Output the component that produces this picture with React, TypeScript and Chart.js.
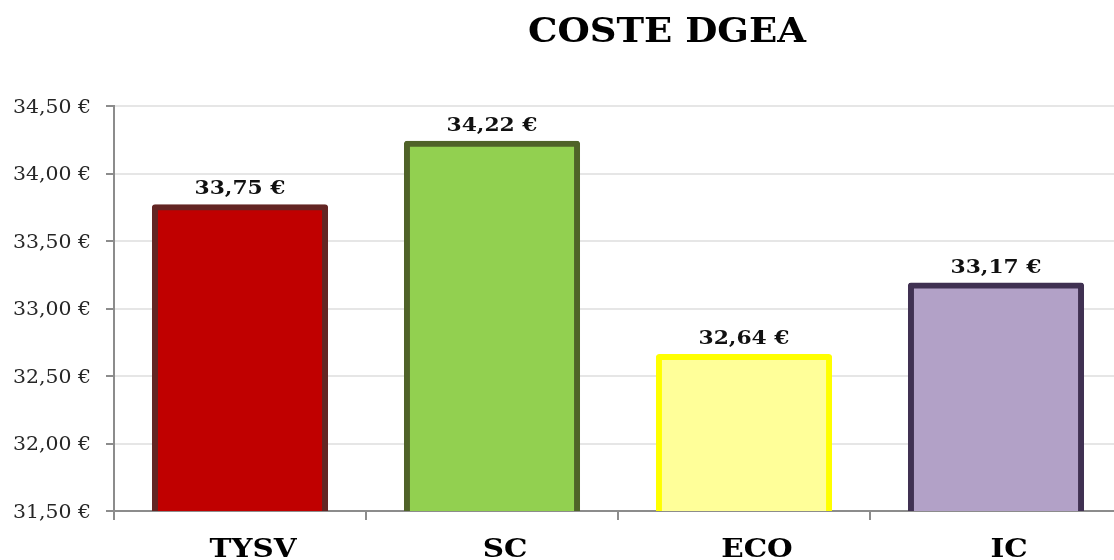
import React, { useEffect, useRef } from "react";
import { Chart, registerables } from "chart.js";

Chart.register(...registerables);

const chartTitle = "COSTE DGEA";
const categories = ["TYSV", "SC", "ECO", "IC"];
const values = [33.75, 34.22, 32.64, 33.17];
const fillColors = ["#C00000", "#92D050", "#FFFF99", "#B2A1C7"];
const borderColors = ["#632523", "#4F6228", "#FFFF00", "#403152"];
const yMin = 31.5;
const yMax = 34.5;
const yStep = 0.5;

const fmt = (v: number) => v.toFixed(2).replace(".", ",") + " €";

const SERIF = '"DejaVu Serif", serif';

function stretchText(
  ctx: CanvasRenderingContext2D,
  text: string,
  x: number,
  y: number,
  font: string,
  sx: number,
  align: CanvasTextAlign,
  color: string
) {
  ctx.save();
  ctx.font = font;
  ctx.fillStyle = color;
  ctx.textAlign = align;
  ctx.textBaseline = "alphabetic";
  ctx.translate(x, y);
  ctx.scale(sx, 1);
  ctx.fillText(text, 0, 0);
  ctx.restore();
}

function factor(ctx: CanvasRenderingContext2D, font: string, sample: string, target: number) {
  ctx.save();
  ctx.font = font;
  const w = ctx.measureText(sample).width;
  ctx.restore();
  return w > 0 ? target / w : 1;
}

const textPlugin = {
  id: "textPlugin",
  afterDraw(chart: any) {
    const ctx: CanvasRenderingContext2D = chart.ctx;
    const xs = chart.scales.x;
    const ys = chart.scales.y;

    // title
    const tFont = `bold 34px ${SERIF}`;
    const tsx = factor(ctx, tFont, chartTitle, 278);
    stretchText(ctx, chartTitle, 667, 42, tFont, tsx, "center", "#000");

    // y tick labels
    const yFont = `18px ${SERIF}`;
    const ysx = factor(ctx, yFont, "34,50 €", 78);
    ys.ticks.forEach((t: any) => {
      const py = ys.getPixelForValue(t.value);
      stretchText(ctx, fmt(t.value), 91, py + 6.5, yFont, ysx, "right", "#262626");
    });

    // x labels
    const xFont = `bold 26px ${SERIF}`;
    const xsx = factor(ctx, xFont, "TYSV", 87);
    categories.forEach((c, i) => {
      const px = xs.getPixelForValue(i);
      stretchText(ctx, c, px + 13, 557, xFont, xsx, "center", "#000");
    });

    // value labels
    const vFont = `bold 19px ${SERIF}`;
    const vsx = factor(ctx, vFont, "34,22 €", 91);
    const meta = chart.getDatasetMeta(0);
    meta.data.forEach((bar: any, i: number) => {
      stretchText(ctx, fmt(values[i]), bar.x, bar.y - 13, vFont, vsx, "center", "#111");
    });
  },
};

export default function App() {
  const ref = useRef<HTMLCanvasElement>(null);
  useEffect(() => {
    if (!ref.current) return;
    const chart = new Chart(ref.current, {
      type: "bar",
      data: {
        labels: categories,
        datasets: [
          {
            data: values,
            backgroundColor: fillColors,
            borderColor: borderColors,
            borderWidth: 6,
            inflateAmount: 3,
            borderRadius: 3,
            categoryPercentage: 1,
            barPercentage: 0.675,
          },
        ],
      },
      options: {
        responsive: false,
        animation: false,
        layout: { padding: { top: 106, left: 0, right: 0, bottom: 0 } },
        plugins: {
          legend: { display: false },
          title: { display: false },
          tooltip: { enabled: false },
        },
        scales: {
          x: {
            offset: true,
            grid: {
              offset: true,
              drawOnChartArea: false,
              drawTicks: true,
              tickLength: 9,
              tickColor: "#8C8C8C",
              lineWidth: 2,
            },
            border: { display: true, color: "#8C8C8C", width: 2 },
            ticks: { display: false },
            afterFit: (s: any) => {
              s.height = 49;
            },
          },
          y: {
            min: yMin,
            max: yMax,
            ticks: { display: false, stepSize: yStep },
            grid: {
              color: "#E6E6E6",
              lineWidth: 2,
              tickLength: 8,
              tickColor: "#8C8C8C",
            },
            border: { display: true, color: "#8C8C8C", width: 2 },
            afterFit: (s: any) => {
              s.width = 114;
            },
          },
        },
      },
      plugins: [textPlugin],
    });
    return () => chart.destroy();
  }, []);
  return (
    <div style={{ position: "fixed", left: 0, top: 0, width: 1114, height: 560, overflow: "hidden", background: "#fff" }}>
      <canvas ref={ref} width={1122} height={560} style={{ display: "block" }} />
    </div>
  );
}
